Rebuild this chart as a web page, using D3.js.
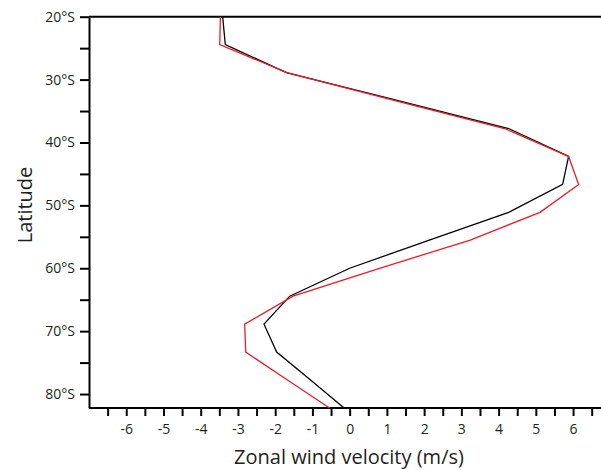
<!DOCTYPE html>
<html>
<head>
<meta charset="utf-8">
<script src="https://cdn.jsdelivr.net/npm/d3@7"></script>
<style>
  body { margin: 0; background: #fff; }
  svg { display: block; font-family: "Open Sans", sans-serif; }
</style>
</head>
<body>
<div id="chart"></div>
<script>
// latitudes (degrees south) of the profile points
const latitudes = [20, 24.44, 28.89, 33.33, 37.78, 42.22, 46.67, 51.11, 55.56, 60, 64.44, 68.89, 73.33, 77.78, 82.22];
// zonal wind, black profile
const windBlack = [-3.41, -3.34, -1.70, 1.30, 4.27, 5.88, 5.72, 4.27, 2.12, 0.0, -1.61, -2.30, -1.96, -1.05, -0.15];
// zonal wind, red profile
const windRed = [-3.47, -3.49, -1.68, 1.22, 4.16, 5.88, 6.15, 5.11, 3.22, 0.80, -1.52, -2.82, -2.79, -1.67, -0.54];

const latTicks = [20, 25, 30, 35, 40, 45, 50, 55, 60, 65, 70, 75, 80];
const latLabels = [20, 30, 40, 50, 60, 70, 80];
const windTicks = [-6.5, -6, -5.5, -5, -4.5, -4, -3.5, -3, -2.5, -2, -1.5, -1, -0.5, 0, 0.5, 1, 1.5, 2, 2.5, 3, 3.5, 4, 4.5, 5, 5.5, 6, 6.5];
const windLabels = [-6, -5, -4, -3, -2, -1, 0, 1, 2, 3, 4, 5, 6];

const width = 601, height = 470;
const textColor = "#231f20";

const svg = d3.select("#chart").append("svg")
    .attr("width", width)
    .attr("height", height);

const x = d3.scaleLinear().domain([-7, 6.75]).range([89, 601]);
const y = d3.scaleLinear().domain([20, 82.22]).range([16.7, 408]);

// top frame line
svg.append("line")
    .attr("x1", x(-7)).attr("x2", width)
    .attr("y1", y(20)).attr("y2", y(20))
    .attr("stroke", "#000").attr("stroke-width", 2);

const yAxis = svg.append("g")
    .attr("transform", `translate(${x(-7)},0)`)
    .call(d3.axisLeft(y)
        .tickValues(latTicks)
        .tickSize(9)
        .tickPadding(5)
        .tickSizeOuter(0)
        .tickFormat(d => latLabels.includes(d) ? d + "°S" : ""));

const xAxis = svg.append("g")
    .attr("transform", `translate(0,${y(82.22)})`)
    .call(d3.axisBottom(x)
        .tickValues(windTicks)
        .tickSize(8)
        .tickPadding(8)
        .tickSizeOuter(0)
        .tickFormat(d => windLabels.includes(d) ? d : ""));

xAxis.select(".domain").attr("d", `M${x(-7)},0H${width}`);

[xAxis, yAxis].forEach(g => {
    g.select(".domain").attr("stroke", "#000").attr("stroke-width", 2);
    g.selectAll(".tick line").attr("stroke", "#000").attr("stroke-width", 2);
    g.selectAll(".tick text")
        .attr("fill", textColor)
        .style("font-size", "14px")
        .style("font-family", "'Open Sans', sans-serif");
});
// plain hyphen for negative numbers, as in the original
xAxis.selectAll(".tick text").text(d => windLabels.includes(d) ? String(d) : "");

const line = d3.line()
    .x(d => x(d[0]))
    .y(d => y(d[1]));

svg.append("path")
    .datum(windBlack.map((w, i) => [w, latitudes[i]]))
    .attr("fill", "none")
    .attr("stroke", "#000")
    .attr("stroke-width", 1.3)
    .attr("d", line);

svg.append("path")
    .datum(windRed.map((w, i) => [w, latitudes[i]]))
    .attr("fill", "none")
    .attr("stroke", "#ed1c24")
    .attr("stroke-width", 1.3)
    .attr("d", line);

svg.append("text")
    .attr("x", 349)
    .attr("y", 464)
    .attr("text-anchor", "middle")
    .attr("fill", textColor)
    .style("font-size", "20px")
    .text("Zonal wind velocity (m/s)");

svg.append("text")
    .attr("transform", "translate(32,205) rotate(-90)")
    .attr("text-anchor", "middle")
    .attr("fill", textColor)
    .style("font-size", "20px")
    .text("Latitude");
</script>
</body>
</html>
